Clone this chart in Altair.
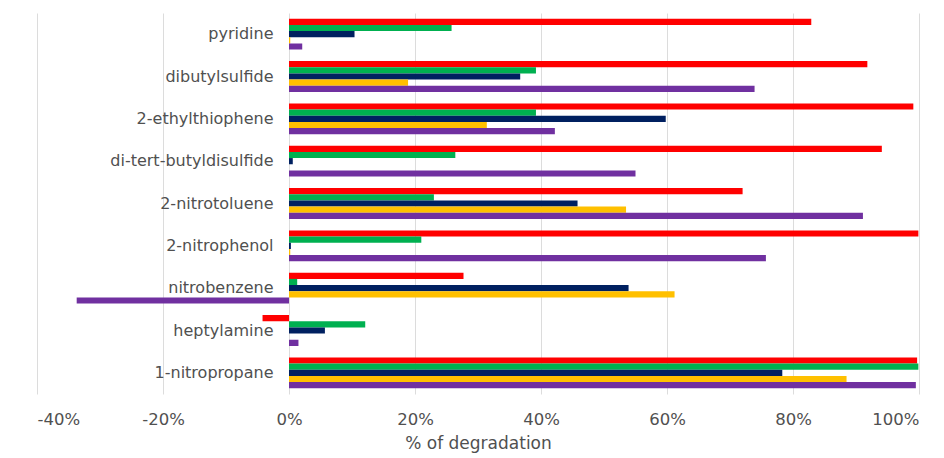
import altair as alt
import pandas as pd

categories = ["pyridine", "dibutylsulfide", "2-ethylthiophene", "di-tert-butyldisulfide",
              "2-nitrotoluene", "2-nitrophenol", "nitrobenzene", "heptylamine", "1-nitropropane"]
series_names = ["S1", "S2", "S3", "S4", "S5"]
series_colors = ["#FF0000", "#00B050", "#002060", "#FFC000", "#7030A0"]

s1 = [82.9, 91.8, 99.1, 94.1, 72.0, 99.9, 27.7, -4.2, 99.7]
s2 = [25.8, 39.2, 39.2, 26.4, 23.0, 21.0, 1.3, 12.1, 99.9]
s3 = [10.4, 36.7, 59.8, 0.6, 45.8, 0.3, 53.9, 5.7, 78.3]
s4 = [0.2, 18.9, 31.4, 0.0, 53.5, 0.2, 61.2, 0.0, 88.5]
s5 = [2.1, 73.9, 42.2, 55.0, 91.1, 75.7, -33.7, 1.5, 99.5]

tick_values = [-0.4, -0.2, 0.0, 0.2, 0.4, 0.6, 0.8, 1.0]

rows = []
for name, vals in zip(series_names, [s1, s2, s3, s4, s5]):
    for c, v in zip(categories, vals):
        rows.append({"compound": c, "series": name, "value": v / 100.0})
df = pd.DataFrame(rows)

FONT = "DejaVu Sans"
TXT = "#505050"

chart = alt.Chart(df).mark_bar().encode(
    y=alt.Y("compound:N", sort=categories,
            scale=alt.Scale(paddingInner=0.27, paddingOuter=0.135),
            axis=alt.Axis(title=None, ticks=False, domain=False, grid=False,
                          offset=-253, labelPadding=17, labelFontSize=16,
                          labelColor=TXT, labelFont=FONT, labelLimit=400)),
    yOffset=alt.YOffset("series:N", sort=series_names),
    x=alt.X("value:Q",
            scale=alt.Scale(domain=[-0.4, 1.0], nice=False, zero=False),
            axis=alt.Axis(values=tick_values, labelExpr="round(datum.value*100) + '%'",
                          title="% of degradation", ticks=False, domain=False,
                          grid=True, gridColor="#dcdcdc", gridWidth=1,
                          labelFontSize=16.5, labelColor=TXT, labelFont=FONT,
                          labelPadding=17, titleFontSize=17, titleColor=TXT,
                          titleFont=FONT, titleFontWeight="normal", titlePadding=8)),
    color=alt.Color("series:N", sort=series_names,
                    scale=alt.Scale(domain=series_names, range=series_colors),
                    legend=None),
).properties(
    width=882, height=381,
    background="white",
    autosize=alt.AutoSizeParams(type="none"),
    padding={"left": 29, "top": 5, "right": 10, "bottom": 64},
).configure_view(stroke=None)

chart.save("out.html", embed_options={"renderer": "svg", "actions": False})
